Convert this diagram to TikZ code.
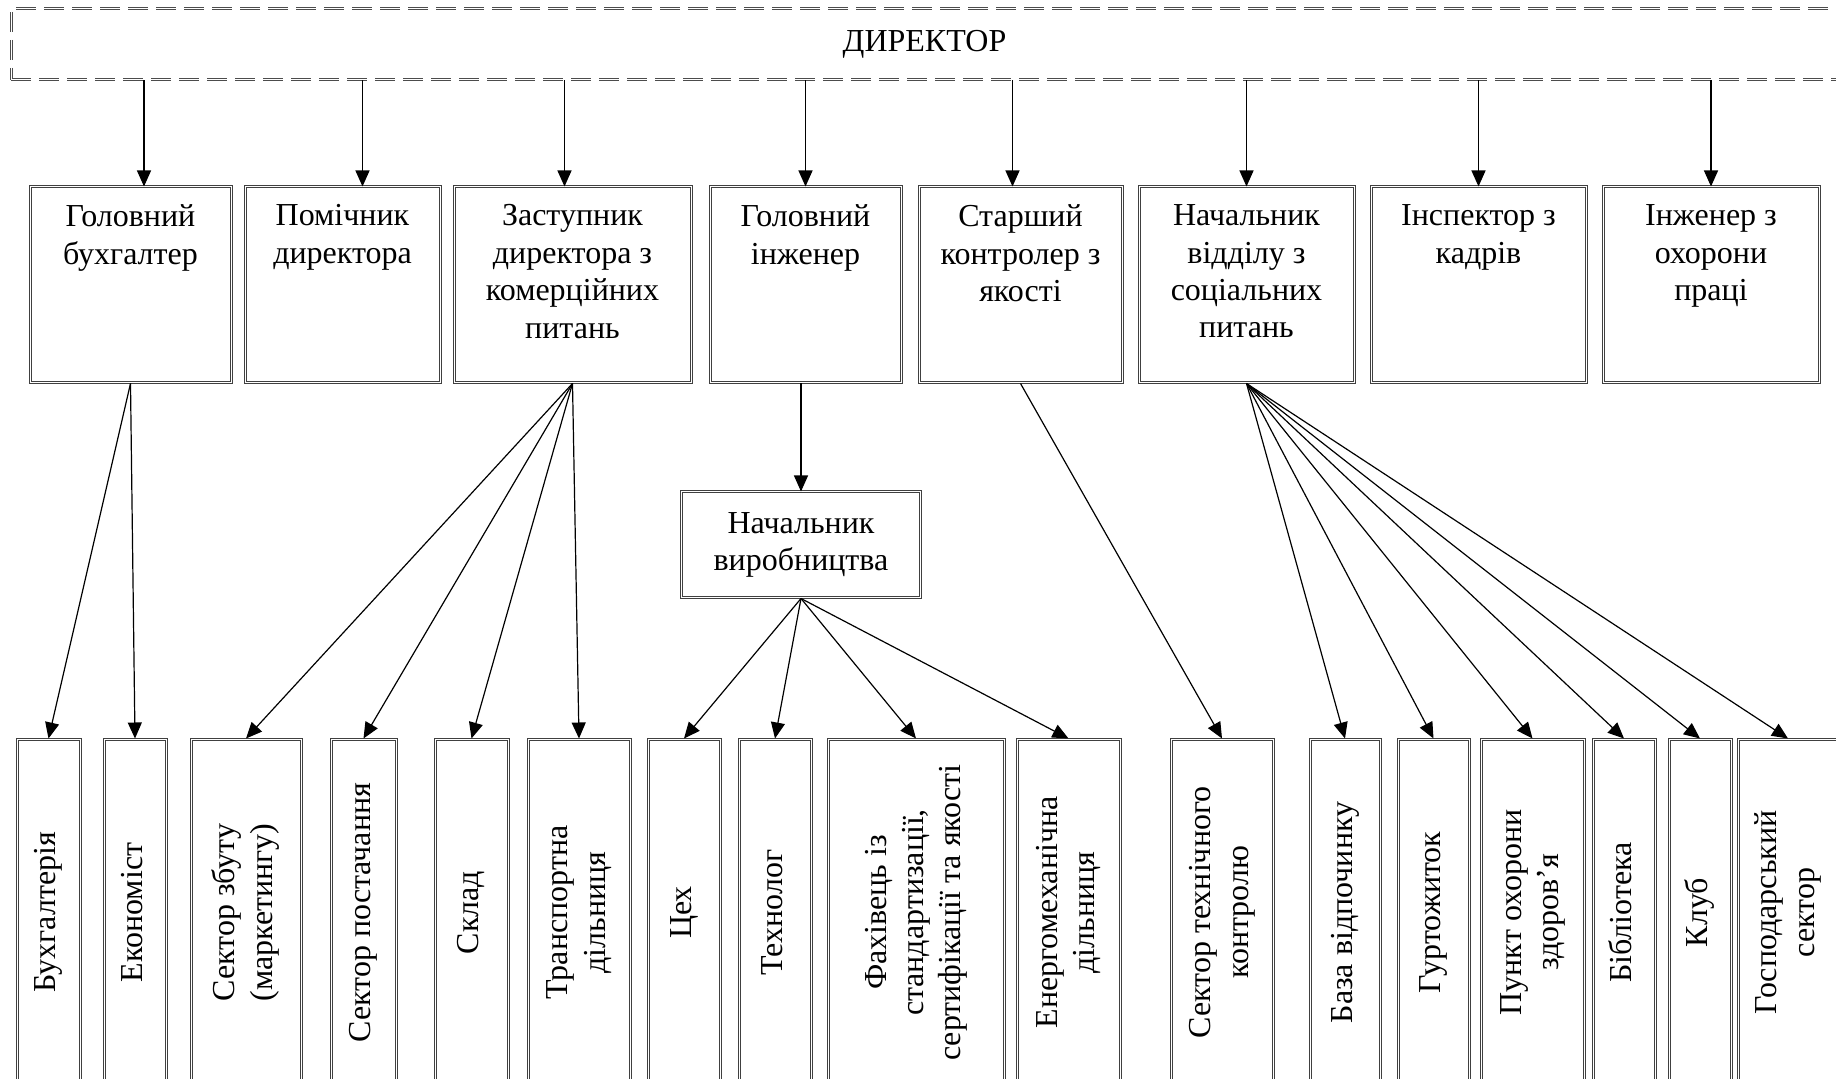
\documentclass[tikz,border=0pt]{standalone}
\usepackage{fontspec}
\setmainfont{Liberation Serif}
\usepackage{graphicx}
\usetikzlibrary{arrows.meta}

\newcommand{\vtxt}[1]{\rotatebox{90}{\begin{tabular}{@{}c@{}}#1\end{tabular}}}

\begin{document}
\begin{tikzpicture}[x=0.5pt, y=-0.5pt, >={Triangle[length=8pt,width=7pt]}, semithick,
    every node/.style={font=\fontsize{16pt}{18.7pt}\selectfont},
    dirbox/.style={draw=black!70, double, double distance=0.5pt, line width=0.5pt,
                   dash pattern=on 10pt off 4pt, text depth=5pt},
    headbox/.style={draw=black!75, double, double distance=0.5pt, line width=0.5pt, minimum height=98pt},
    headtext/.style={anchor=north, align=center, yshift=-5.5pt},
    midbox/.style={headbox, minimum height=53pt, align=center},
    unitbox/.style={headbox, minimum height=173.5pt, inner sep=0pt}]

    \useasboundingbox (0,0) rectangle (1836,1079);

    % director
    \node[dirbox, minimum width=919.5pt, minimum height=35.5pt] (dir) at (930.5,44.5) {};
    \node at ([xshift=-3pt]dir.center) {ДИРЕКТОР};

    % first level
    \node[headbox, minimum width=100.5pt] (glbuh) at (130.5,285) {};
    \node[headtext] at (glbuh.north) {Головний\\бухгалтер};
    \node[headbox, minimum width=97.5pt] (pomdir) at (342.5,285) {};
    \node[headtext] at (pomdir.north) {Помічник\\директора};
    \node[headbox, minimum width=118.5pt] (zastkom) at (572.5,285) {};
    \node[headtext] at (zastkom.north) {Заступник\\директора з\\комерційних\\питань};
    \node[headbox, minimum width=95.5pt] (glinzh) at (805.5,285) {};
    \node[headtext] at (glinzh.north) {Головний\\інженер};
    \node[headbox, minimum width=101.5pt] (stkontr) at (1020.5,285) {};
    \node[headtext] at (stkontr.north) {Старший\\контролер з\\якості};
    \node[headbox, minimum width=107.5pt] (nachsoc) at (1246.5,285) {};
    \node[headtext] at (nachsoc.north) {Начальник\\відділу з\\соціальних\\питань};
    \node[headbox, minimum width=107.5pt] (inspkadr) at (1478.5,285) {};
    \node[headtext] at (inspkadr.north) {Інспектор з\\кадрів};
    \node[headbox, minimum width=108pt] (inzhop) at (1711,285) {};
    \node[headtext] at (inzhop.north) {Інженер з\\охорони\\праці};

    \node[midbox, minimum width=119.5pt] (nachvyr) at (801,545) {Начальник\\виробництва};

    % units
    \node[unitbox, minimum width=31.5pt] (buh) at (48.5,912.5) {\vtxt{Бухгалтерія}};
    \node[unitbox, minimum width=31pt] (ekon) at (135,912.5) {\vtxt{Економіст}};
    \node[unitbox, minimum width=55pt] (zbut) at (246,912.5) {\vtxt{Сектор збуту\\(маркетингу)}};
    \node[unitbox, minimum width=32.5pt] (postach) at (363.5,912.5) {\vtxt{Сектор постачання}};
    \node[unitbox, minimum width=36.5pt] (sklad) at (471.5,912.5) {\vtxt{Склад}};
    \node[unitbox, minimum width=51pt] (transp) at (579,912.5) {\vtxt{Транспортна\\дільниця}};
    \node[unitbox, minimum width=36pt] (tsekh) at (684,912.5) {\vtxt{Цех}};
    \node[unitbox, minimum width=36pt] (tekhnol) at (775,912.5) {\vtxt{Технолог}};
    \node[unitbox, minimum width=88pt] (fakh) at (916,912.5) {\vtxt{Фахівець із\\стандартизації,\\сертифікації та якості}};
    \node[unitbox, minimum width=51.5pt] (energ) at (1068.5,912.5) {\vtxt{Енергомеханічна\\дільниця}};
    \node[unitbox, minimum width=51pt] (stk) at (1222,912.5) {\vtxt{Сектор технічного\\контролю}};
    \node[unitbox, minimum width=35pt] (baza) at (1345,912.5) {\vtxt{База відпочинку}};
    \node[unitbox, minimum width=35.5pt] (hurt) at (1433.5,912.5) {\vtxt{Гуртожиток}};
    \node[unitbox, minimum width=51.5pt] (punkt) at (1532.5,912.5) {\vtxt{Пункт охорони\\здоров’я}};
    \node[unitbox, minimum width=31pt] (bibl) at (1624,912.5) {\vtxt{Бібліотека}};
    \node[unitbox, minimum width=31pt] (klub) at (1700,912.5) {\vtxt{Клуб}};
    \node[unitbox, minimum width=50pt] (hosp) at (1788,912.5) {\vtxt{Господарський\\сектор}};

    % entry points under the director
    \coordinate (in1) at ([xshift=6.75pt]glbuh.north);
    \coordinate (in2) at ([xshift=10pt]pomdir.north);
    \coordinate (in3) at ([xshift=-4pt]zastkom.north);
    \coordinate (in5) at ([xshift=-4pt]stkontr.north);

    \path[->]
    (dir.south -| in1) edge (in1)
    (dir.south -| in2) edge (in2)
    (dir.south -| in3) edge (in3)
    (dir.south -| glinzh.north) edge (glinzh.north)
    (dir.south -| in5) edge (in5)
    (dir.south -| nachsoc.north) edge (nachsoc.north)
    (dir.south -| inspkadr.north) edge (inspkadr.north)
    (dir.south -| inzhop.north) edge (inzhop.north);

    \path[->]
    (glbuh.south) edge (buh.north)
                  edge (ekon.north)
    (zastkom.south) edge (zbut.north)
                    edge (postach.north)
                    edge (sklad.north)
                    edge (transp.north)
    (glinzh.south -| nachvyr.north) edge (nachvyr.north)
    (nachvyr.south) edge (tsekh.north)
                    edge (tekhnol.north)
                    edge (fakh.north)
                    edge (energ.north)
    (stkontr.south) edge (stk.north)
    (nachsoc.south) edge (baza.north)
                    edge (hurt.north)
                    edge (punkt.north)
                    edge (bibl.north)
                    edge (klub.north)
                    edge (hosp.north);

\end{tikzpicture}
\end{document}
